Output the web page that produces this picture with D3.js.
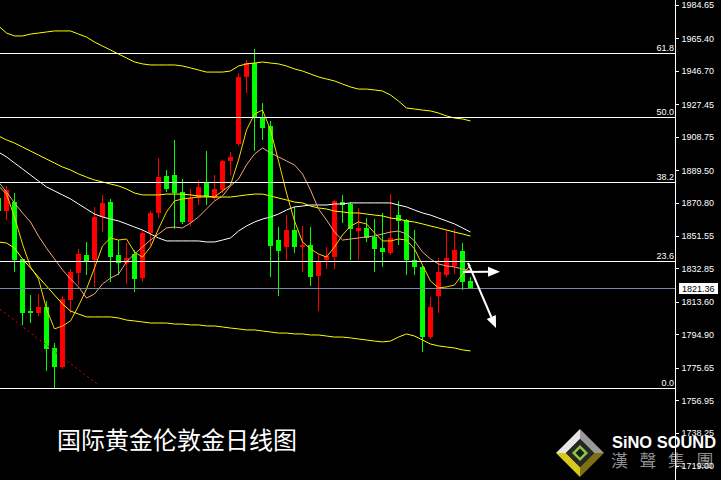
<!DOCTYPE html>
<html><head><meta charset="utf-8">
<script src="https://cdn.jsdelivr.net/npm/d3@7"></script>
<style>html,body{margin:0;padding:0;background:#000;overflow:hidden}</style>
</head><body>
<svg id="c" width="721" height="480"></svg>
<script>
// ---- data (daily candles, oldest first; first candle partially off-screen) ----
const opens  = [1873.6,1865.9,1871.3,1838.1,1808.3,1807.3,1810.8,1787.2,1776.2,1814.7,1830.4,1840.6,1837.7,1862.7,1871.3,1840.6,1836.2,1841.2,1827.5,1853.4,1865.0,1886.1,1886.7,1877.1,1859.8,1873.3,1882.8,1873.3,1878.1,1894.9,1904.6,1943.0,1951.4,1919.7,1914.9,1849.2,1845.0,1855.0,1845.0,1846.4,1828.5,1837.7,1839.3,1871.3,1870.0,1854.4,1856.0,1850.8,1844.5,1841.6,1863.6,1860.8,1837.7,1833.9,1793.5,1817.1,1829.1,1834.3,1842.9,1825.6];
const highs  = [1875.2,1880.4,1876.1,1838.3,1817.5,1818.1,1814.1,1790.1,1817.0,1832.5,1844.1,1848.3,1868.4,1875.2,1872.9,1849.2,1847.7,1843.5,1855.0,1865.9,1896.5,1889.6,1906.9,1884.4,1878.5,1883.8,1900.5,1886.7,1895.3,1900.2,1945.3,1953.0,1959.3,1928.4,1917.8,1856.6,1863.6,1868.4,1857.3,1856.6,1840.6,1845.4,1872.0,1875.2,1871.3,1867.9,1861.7,1861.2,1864.6,1875.7,1871.7,1861.2,1855.0,1834.3,1816.2,1838.7,1855.0,1855.4,1847.7,1828.1];
const lows   = [1864.2,1860.8,1831.0,1800.3,1801.6,1805.6,1773.8,1763.8,1774.9,1807.3,1823.3,1829.1,1822.0,1854.0,1825.2,1829.1,1823.9,1819.4,1825.2,1846.4,1862.1,1877.1,1855.4,1858.3,1857.3,1869.4,1869.4,1872.3,1876.1,1886.7,1903.4,1934.1,1900.7,1906.9,1828.1,1817.1,1837.7,1841.6,1831.0,1822.7,1808.5,1832.5,1832.4,1858.9,1837.7,1837.7,1848.3,1831.0,1833.9,1840.6,1846.4,1829.1,1829.1,1784.9,1792.0,1807.3,1828.1,1829.5,1820.4,1821.36];
const closes = [1865.9,1878.1,1837.7,1807.3,1807.3,1810.8,1786.4,1776.2,1815.2,1831.0,1841.2,1836.7,1862.7,1870.7,1839.3,1836.2,1839.0,1826.8,1853.4,1864.6,1885.7,1878.5,1876.5,1859.8,1873.6,1880.0,1874.2,1878.5,1894.8,1897.1,1943.3,1951.1,1919.4,1913.6,1846.0,1843.1,1855.0,1845.0,1846.4,1828.1,1837.3,1840.0,1871.7,1869.4,1855.4,1856.3,1850.2,1844.1,1842.5,1850.2,1860.2,1837.7,1833.9,1793.5,1810.8,1831.0,1838.7,1843.5,1825.2,1821.36];

// moving averages
const ma5    = [1880.4,1875.7,1862.5,1846.9,1833.7,1826.8,1809.5,1798.0,1799.7,1802.6,1811.2,1821.0,1833.1,1845.8,1850.4,1849.2,1849.8,1842.3,1839.4,1845.2,1855.6,1865.4,1871.7,1872.9,1873.4,1874.0,1874.0,1874.0,1877.5,1880.9,1895.3,1912.6,1921.8,1924.1,1912.6,1894.8,1876.3,1860.2,1848.1,1844.1,1841.2,1839.4,1845.2,1852.1,1857.3,1859.6,1858.5,1853.3,1848.7,1848.7,1849.8,1849.2,1844.1,1834.8,1825.6,1821.6,1822.2,1823.3,1829.6,1834.8];
const ma10   = [1882.7,1876.9,1870.6,1864.8,1859.6,1851.5,1844.6,1838.3,1832.0,1826.8,1822.2,1815.8,1818.1,1823.9,1827.3,1829.6,1836.6,1841.2,1845.2,1849.2,1852.7,1856.2,1856.7,1856.2,1859.0,1862.5,1867.1,1871.7,1874.6,1880.4,1884.4,1892.5,1898.8,1902.3,1899.4,1897.1,1894.8,1892.5,1887.3,1878.0,1867.1,1860.8,1853.8,1849.2,1849.8,1850.4,1851.0,1851.5,1852.7,1853.8,1854.4,1852.7,1848.7,1842.3,1838.3,1835.4,1834.3,1833.7,1832.5,1831.4];
const maSlow = [1899.9,1897.1,1893.6,1890.2,1886.7,1883.2,1879.8,1877.5,1875.2,1872.9,1870.0,1867.1,1864.2,1862.5,1861.3,1860.2,1858.5,1856.7,1855.0,1852.7,1850.4,1848.7,1848.7,1848.7,1848.7,1848.7,1848.1,1848.1,1849.2,1850.4,1854.4,1857.3,1859.6,1861.3,1862.5,1864.2,1866.5,1868.3,1868.8,1869.4,1869.4,1869.4,1870.0,1870.0,1870.6,1870.6,1870.6,1870.6,1870.6,1870.6,1869.4,1868.3,1866.5,1864.8,1863.6,1861.9,1860.2,1858.5,1856.2,1853.8];
const bbMid  = [1909.2,1906.9,1905.1,1902.8,1900.5,1898.2,1895.9,1893.6,1891.3,1889.6,1887.3,1885.5,1883.8,1882.7,1881.5,1880.4,1878.6,1876.3,1875.2,1875.2,1875.2,1875.7,1875.7,1875.7,1875.2,1874.6,1874.6,1874.0,1874.0,1874.0,1874.6,1875.2,1875.7,1875.7,1874.6,1873.4,1872.3,1871.1,1870.6,1868.8,1867.7,1867.1,1865.9,1865.4,1864.8,1864.8,1864.2,1863.6,1863.1,1861.9,1861.3,1860.2,1859.6,1858.5,1857.3,1856.2,1855.0,1853.8,1852.7,1851.5];
const bbUpper= [1972.6,1968.5,1966.8,1966.8,1967.9,1968.5,1969.1,1969.7,1969.7,1969.7,1967.9,1966.2,1963.3,1961.0,1958.7,1956.4,1954.1,1951.8,1950.7,1950.1,1950.1,1950.1,1950.1,1949.5,1948.4,1947.2,1946.0,1946.0,1946.0,1946.6,1949.5,1950.7,1951.2,1951.8,1951.2,1950.7,1949.5,1947.8,1946.6,1944.9,1943.2,1942.0,1940.9,1939.1,1937.4,1936.2,1936.2,1935.7,1935.1,1932.8,1929.3,1925.3,1924.7,1924.1,1923.6,1922.4,1920.7,1919.5,1919.0,1917.8];
const bbLower= [1848.1,1847.5,1844.6,1838.3,1833.1,1827.9,1822.7,1817.5,1812.4,1808.3,1806.6,1804.9,1804.9,1804.9,1804.9,1804.3,1803.1,1802.6,1802.0,1801.4,1801.4,1801.4,1800.8,1800.8,1800.3,1800.3,1799.7,1799.7,1799.1,1798.5,1798.0,1797.4,1797.4,1796.8,1796.2,1795.6,1795.6,1795.1,1795.1,1794.5,1794.5,1793.9,1793.3,1793.3,1792.8,1792.2,1791.6,1791.0,1790.5,1791.0,1793.3,1795.1,1793.9,1791.6,1789.3,1788.2,1787.6,1787.0,1785.9,1785.3];

const yTickValues = [1984.65,1965.40,1946.70,1927.45,1908.75,1889.50,1870.80,1851.55,1832.85,1813.60,1794.90,1775.65,1756.95,1738.25,1719.00];
const fibLabels = ["0.0","23.6","38.2","50.0","61.8"];
const fibPrices = [1763.8,1837.3,1882.8,1919.9,1957.2];
const lastPrice = 1821.36;
// trend line and arrows: [candle index, price]
const trendLine = [[0.19,1809.3],[12.47,1765.7]];
const arrows = [ [[58.06,1830.8],[62.69,1830.9]], [[58.69,1836.0],[62.19,1798.5]] ];
const titleText = "国际黄金伦敦金日线图";
const logoText = "SiNO SOUND";
const logoChars = ["漢","聲","集","團"];

// ---- drawing ----
const W = 721, H = 480, plotRight = 676;
const svg = d3.select("#c");
svg.append("rect").attr("width",W).attr("height",H).attr("fill","#000");

const x = d3.scaleLinear().domain([0, closes.length-1]).range([-1.5, -1.5 + 8*(closes.length-1)]);
const y = d3.scaleLinear().domain([1719.00, 1984.65]).range([466, 5]);

svg.append("clipPath").attr("id","plot").append("rect").attr("x",0).attr("y",0).attr("width",plotRight).attr("height",H);
const g = svg.append("g").attr("clip-path","url(#plot)");

// candles
const idx = d3.range(closes.length);
const up = i => closes[i] >= opens[i];
const col = i => up(i) ? "#ff0000" : "#00ff00";
g.append("g").selectAll("rect.w").data(idx).join("rect")
  .attr("x", i => Math.round(x(i) - 0.5)).attr("width",1)
  .attr("y", i => Math.round(y(highs[i])))
  .attr("height", i => Math.max(1, Math.round(y(lows[i])) - Math.round(y(highs[i]))))
  .attr("fill", col).attr("shape-rendering","crispEdges");
g.append("g").selectAll("rect.b").data(idx).join("rect")
  .attr("x", i => Math.round(x(i) - 2.5)).attr("width",5)
  .attr("y", i => Math.round(y(Math.max(opens[i],closes[i]))))
  .attr("height", i => Math.max(1, Math.round(y(Math.min(opens[i],closes[i]))) - Math.round(y(Math.max(opens[i],closes[i])))))
  .attr("fill", col).attr("shape-rendering","crispEdges");

// indicator lines
const line = d3.line().x((d,i) => x(i)).y(d => y(d));
const series = [
  [bbUpper, "#ffff00"], [bbLower, "#ffff00"], [bbMid, "#ffff00"],
  [maSlow, "#ffffff"], [ma10, "#f4a582"], [ma5, "#ffd200"]
];
series.forEach(([s, c]) => {
  g.append("path").datum(s).attr("d", line).attr("fill","none").attr("stroke",c).attr("stroke-width",1);
});

// trend line
g.append("line")
  .attr("x1", x(trendLine[0][0])).attr("y1", y(trendLine[0][1]))
  .attr("x2", x(trendLine[1][0])).attr("y2", y(trendLine[1][1]))
  .attr("stroke","#e00000").attr("stroke-width",1).attr("stroke-dasharray","2,3");

// fibonacci levels
fibPrices.forEach((p, i) => {
  const yy = Math.round(y(p)) + 0.5;
  svg.append("line").attr("x1",0).attr("x2",plotRight).attr("y1",yy).attr("y2",yy)
    .attr("stroke","#ffffff").attr("stroke-width",1).attr("shape-rendering","crispEdges");
  svg.append("text").attr("x", plotRight - 2).attr("y", yy - 2.5).attr("text-anchor","end")
    .attr("fill","#fff").attr("font-family","Liberation Sans, Arial, sans-serif").attr("font-size",9)
    .text(fibLabels[i]);
});

// last price line
const ly = Math.round(y(lastPrice)) + 0.5;
svg.append("line").attr("x1",0).attr("x2",plotRight).attr("y1",ly).attr("y2",ly)
  .attr("stroke","#7a8ba0").attr("stroke-width",1).attr("shape-rendering","crispEdges");

// arrows
arrows.forEach(([a, b]) => {
  const x1 = x(a[0]), y1 = y(a[1]), x2 = x(b[0]), y2 = y(b[1]);
  const ang = Math.atan2(y2 - y1, x2 - x1);
  const len = 12, half = 5;
  const bx = x2 - len*Math.cos(ang), by = y2 - len*Math.sin(ang);
  svg.append("line").attr("x1",x1).attr("y1",y1).attr("x2",bx).attr("y2",by)
    .attr("stroke","#fff").attr("stroke-width",2);
  const pts = [[x2,y2],[bx + half*Math.sin(ang), by - half*Math.cos(ang)],[bx - half*Math.sin(ang), by + half*Math.cos(ang)]];
  svg.append("polygon").attr("points", pts.map(p => p.join(",")).join(" ")).attr("fill","#fff");
});

// title
svg.append("text").attr("x",57).attr("y",449).attr("fill","#fff")
  .attr("font-family","Noto Sans CJK SC, sans-serif").attr("font-size",24).text(titleText);

// logo
const lg = svg.append("g").attr("transform","translate(580,453)");
const R = 24, r = 14;
const P = (s) => s.map(p => p.join(",")).join(" ");
lg.append("polygon").attr("points",P([[0,-R],[-R,0],[-r,0],[0,-r]])).attr("fill","#e6e6e6");
lg.append("polygon").attr("points",P([[0,-R],[R,0],[r,0],[0,-r]])).attr("fill","#9a9a9a");
lg.append("polygon").attr("points",P([[R,0],[0,R],[0,r],[r,0]])).attr("fill","#7d7012");
lg.append("polygon").attr("points",P([[-R,0],[0,R],[0,r],[-r,0]])).attr("fill","#d8c81c");
lg.append("polygon").attr("points",P([[0,-r],[r,0],[0,r],[-r,0]])).attr("fill","#262626");
lg.append("polygon").attr("points",P([[0,-8],[8,0],[0,8],[-8,0]])).attr("fill","#8cc63f");
lg.append("polygon").attr("points",P([[0,-4.5],[4.5,0],[0,4.5],[-4.5,0]])).attr("fill","#1a1a1a");
svg.append("text").attr("x",612).attr("y",448).attr("fill","#fff")
  .attr("font-family","Liberation Sans, Arial, sans-serif").attr("font-weight","bold").attr("font-size",17)
  .attr("textLength",104).attr("lengthAdjust","spacingAndGlyphs").text(logoText);
logoChars.forEach((c, i) => {
  svg.append("text").attr("x", 611 + i*28.5).attr("y", 467).attr("fill","#8f8f8f")
    .attr("font-family","Noto Sans CJK TC, sans-serif").attr("font-size",17).text(c);
});

// right price axis
svg.append("line").attr("x1",675.5).attr("x2",675.5).attr("y1",0).attr("y2",H)
  .attr("stroke","#fff").attr("stroke-width",1).attr("shape-rendering","crispEdges");
const axis = d3.axisRight(y).tickValues(yTickValues).tickSize(3).tickPadding(3).tickFormat(d3.format(".2f"));
const ag = svg.append("g").attr("transform","translate(675.5,0)").call(axis);
ag.select(".domain").remove();
ag.selectAll("line").attr("stroke","#fff").attr("shape-rendering","crispEdges");
ag.selectAll("text").attr("fill","#fff").attr("font-family","Liberation Sans, Arial, sans-serif").attr("font-size",9);

// last price box
svg.append("rect").attr("x",679).attr("y",ly - 5.5).attr("width",39).attr("height",11).attr("fill","#fff");
svg.append("text").attr("x",682).attr("y",ly + 3.5).attr("fill","#000")
  .attr("font-family","Liberation Sans, Arial, sans-serif").attr("font-size",9).text(lastPrice.toFixed(2));
</script>
</body></html>
